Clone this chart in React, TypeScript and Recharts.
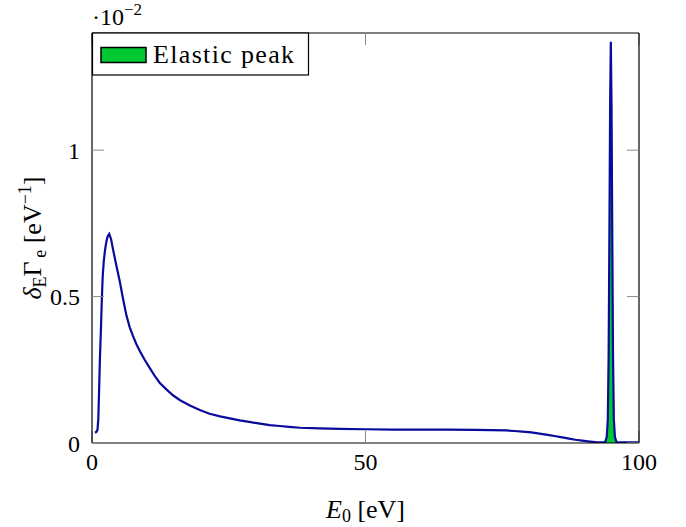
import React from 'react';
import { ComposedChart, Line, Area, XAxis, YAxis } from 'recharts';

const FONT = '"Liberation Serif", "Times New Roman", serif';

// Energy E0 in eV
const energy = [
  0.55, 0.8, 1.0, 1.15, 1.3, 1.45, 1.6, 1.8, 1.95, 2.15, 2.37, 2.6, 2.85, 3.16, 3.5, 3.89, 4.3, 4.7, 5.1, 5.7,
  6.3, 6.9, 7.5, 8.1, 8.8, 9.6, 10.6, 11.5, 12.4, 13.6, 14.8, 16.1, 17.9, 19.7, 21.5, 23.4, 25.2, 27, 29, 30.7,
  32.5, 34.3, 36, 38, 41.6, 45.3, 50, 55, 60, 65, 70, 73, 75.7, 77.2, 78.7, 80.3, 81.8, 83.3, 84.8, 86,
  87.2, 88.4, 89.6, 91, 92.1, 93.3, 93.8, 94.1, 94.3, 94.45, 94.6, 94.72, 94.85, 94.98, 95.1, 95.25, 95.4, 95.6, 95.9, 96.5,
  100,
];
// δE Γe in units of 1e-2 eV^-1
const spectrum = [
  0.035, 0.038, 0.045, 0.08, 0.18, 0.29, 0.37, 0.49, 0.566, 0.62, 0.657, 0.685, 0.705, 0.714, 0.695, 0.657, 0.62, 0.585, 0.55, 0.49,
  0.435, 0.395, 0.365, 0.338, 0.312, 0.285, 0.255, 0.228, 0.205, 0.183, 0.163, 0.146, 0.128, 0.113, 0.1, 0.091, 0.084, 0.077, 0.071, 0.066,
  0.061, 0.058, 0.055, 0.052, 0.05, 0.048, 0.047, 0.046, 0.046, 0.046, 0.045, 0.044, 0.043, 0.041, 0.039, 0.036, 0.032, 0.028, 0.023, 0.019,
  0.015, 0.011, 0.008, 0.005, 0.003, 0.002, 0.003, 0.02, 0.08, 0.3, 0.75, 1.15, 1.37, 1.15, 0.75, 0.3, 0.08, 0.02, 0.003, 0.002,
  0.002,
];
// Elastic peak (filled)
const elasticEnergy = [93.8, 94.1, 94.3, 94.45, 94.6, 94.72, 94.85, 94.98, 95.1, 95.25, 95.4, 95.6, 95.9];
const elasticValue = [0.003, 0.02, 0.08, 0.3, 0.75, 1.15, 1.37, 1.15, 0.75, 0.3, 0.08, 0.02, 0.003];

const xTicks = [0, 50, 100];
const yTicks = [0, 0.5, 1];
const legendLabel = 'Elastic peak';

const data = energy.map((e, i) => {
  const k = elasticEnergy.indexOf(e);
  return { e, s: spectrum[i], p: k >= 0 ? elasticValue[k] : null };
});

const BLUE = '#0a0a9c';
const GREEN = '#00c832';

const tickStyle = { fill: '#000', fontSize: 24, fontFamily: FONT };

const XLabel = (props: any) => {
  const vb = props.viewBox || { x: 92, y: 443, width: 547, height: 84 };
  const cx = vb.x + vb.width / 2;
  const y = vb.y + 75;
  return (
    <text x={cx} y={y} textAnchor="middle" fontFamily={FONT} fontSize={26} fill="#000">
      <tspan fontStyle="italic">E</tspan>
      <tspan fontSize={18} dy={4}>0</tspan>
      <tspan dy={-4}>{' [eV]'}</tspan>
    </text>
  );
};

const YLabel = (props: any) => {
  const vb = props.viewBox || { x: 0, y: 33, width: 92, height: 410 };
  const cx = vb.x + 41;
  const cy = vb.y + vb.height / 2;
  return (
    <text transform={`translate(${cx},${cy}) rotate(-90)`} x={0} y={0} textAnchor="middle" fontFamily={FONT} fontSize={26} fill="#000">
      <tspan fontStyle="italic">δ</tspan>
      <tspan fontSize={18} dy={5}>E</tspan>
      <tspan dy={-5}>Γ</tspan>
      <tspan fontSize={18} dy={5}>{'\u2009e'}</tspan>
      <tspan dy={-5}>{' [eV'}</tspan>
      <tspan fontSize={18} dy={-10}>−1</tspan>
      <tspan dy={10}>]</tspan>
    </text>
  );
};

export default function App() {
  return (
    <div style={{ position: 'absolute', left: 0, top: 0, width: 686, height: 527, background: '#fff' }}>
      <ComposedChart width={686} height={527} data={data} margin={{ top: 32, right: 46, bottom: 0, left: 0 }}>
        <XAxis
          dataKey="e"
          type="number"
          domain={[0, 100]}
          ticks={xTicks}
          interval={0}
          allowDataOverflow
          height={84}
          tickSize={-12}
          tickMargin={22}
          axisLine={{ stroke: '#000', strokeWidth: 1.2 }}
          tickLine={{ stroke: '#888' }}
          tick={tickStyle}
          label={XLabel}
        />
        <XAxis
          xAxisId="top"
          orientation="top"
          dataKey="e"
          type="number"
          domain={[0, 100]}
          ticks={xTicks}
          interval={0}
          allowDataOverflow
          height={1}
          tickSize={-12}
          tickFormatter={() => ''}
          axisLine={{ stroke: '#000', strokeWidth: 1.2 }}
          tickLine={{ stroke: '#888' }}
        />
        <YAxis
          type="number"
          domain={[0, 1.4]}
          ticks={yTicks}
          interval={0}
          allowDataOverflow
          width={92}
          tickSize={-12}
          tickMargin={24}
          axisLine={{ stroke: '#000', strokeWidth: 1.2 }}
          tickLine={{ stroke: '#888' }}
          tick={tickStyle}
          label={YLabel}
        />
        <YAxis
          yAxisId="right"
          orientation="right"
          type="number"
          domain={[0, 1.4]}
          ticks={yTicks}
          interval={0}
          allowDataOverflow
          width={1}
          tickSize={-12}
          tickFormatter={() => ''}
          axisLine={{ stroke: '#000', strokeWidth: 1.2 }}
          tickLine={{ stroke: '#888' }}
        />
        <Area
          type="linear"
          dataKey="p"
          stroke="none"
          fill={GREEN}
          fillOpacity={1}
          isAnimationActive={false}
          connectNulls={false}
        />
        <Line
          type="linear"
          dataKey="s"
          stroke={BLUE}
          strokeWidth={2.2}
          dot={false}
          isAnimationActive={false}
        />
      </ComposedChart>
      <svg width={686} height={527} style={{ position: 'absolute', left: 0, top: 0, pointerEvents: 'none' }}>
        <text x={92} y={25} fontFamily={FONT} fontSize={24} fill="#000">
          <tspan>·10</tspan>
          <tspan fontSize={17} dy={-10}>−2</tspan>
        </text>
        <rect x={92.5} y={33} width={216} height={42} fill="#fff" stroke="#000" strokeWidth={1.2} />
        <rect x={101} y={47.5} width={45} height={15} fill={GREEN} stroke="#000" strokeWidth={1.5} />
        <text x={153} y={62.5} fontFamily={FONT} fontSize={26} fill="#000" textLength={141} lengthAdjust="spacing">
          {legendLabel}
        </text>
      </svg>
    </div>
  );
}
